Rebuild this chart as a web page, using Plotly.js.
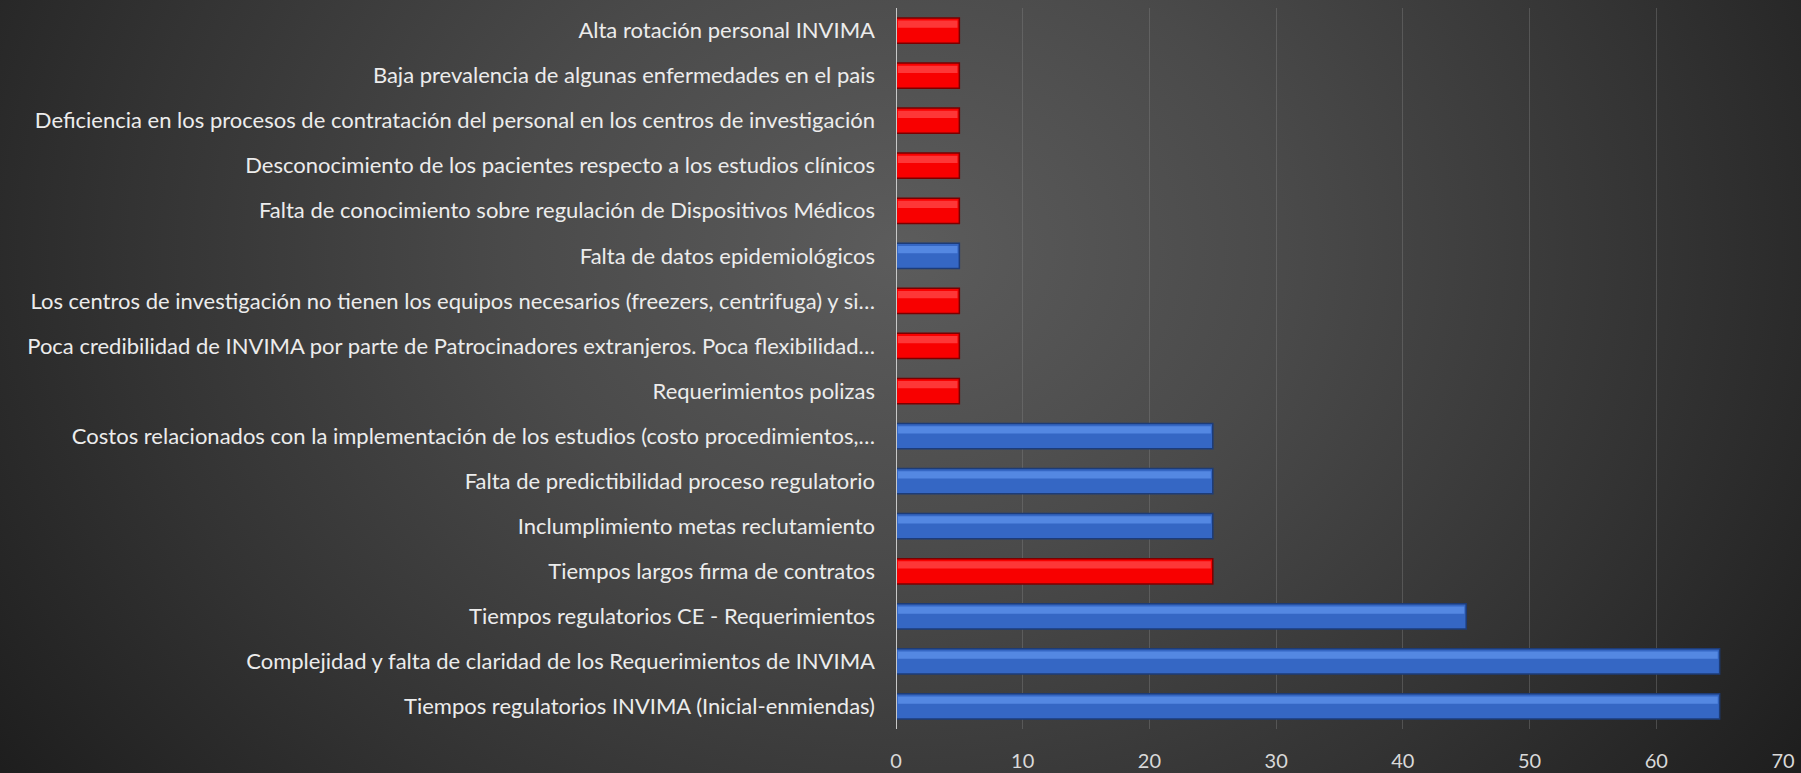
<!DOCTYPE html>
<html>
<head>
<meta charset="utf-8">
<script src="https://cdn.plot.ly/plotly-3.0.1.min.js"></script>
<style>
html,body{margin:0;padding:0;width:1801px;height:773px;overflow:hidden;}
body{background:radial-gradient(ellipse 1100px 900px at 900px 250px,#5c5c5c 0%,#4a4a4a 35%,#333 70%,#1e1e1e 100%);}
#chart{width:1801px;height:773px;}
</style>
</head>
<body>
<div id="chart"></div>
<script>
// Categories listed top to bottom as in the chart
const categories = [
  "Alta rotación personal INVIMA",
  "Baja prevalencia de algunas enfermedades en el pais",
  "Deficiencia en los procesos de contratación del personal en los centros de investigación",
  "Desconocimiento de los pacientes respecto a los estudios clínicos",
  "Falta de conocimiento sobre regulación de Dispositivos Médicos",
  "Falta de datos epidemiológicos",
  "Los centros de investigación no tienen los equipos necesarios (freezers, centrifuga) y si…",
  "Poca credibilidad de INVIMA por parte de Patrocinadores extranjeros. Poca flexibilidad…",
  "Requerimientos polizas",
  "Costos relacionados con la implementación de los estudios (costo procedimientos,…",
  "Falta de predictibilidad proceso regulatorio",
  "Inclumplimiento metas reclutamiento",
  "Tiempos largos firma de contratos",
  "Tiempos regulatorios CE - Requerimientos",
  "Complejidad y falta de claridad de los Requerimientos de INVIMA",
  "Tiempos regulatorios INVIMA (Inicial-enmiendas)"
];
const values = [5,5,5,5,5,5,5,5,5,25,25,25,25,45,65,65];
// group: "R" = red bars, "B" = blue bars
const groups = ["R","R","R","R","R","B","R","R","R","B","B","B","R","B","B","B"];
const xTicks = [0,10,20,30,40,50,60,70];

const palette = {R:{fill:"#f80000",line:"#7a0000",hi:"#ff4a4a"}, B:{fill:"#3567c4",line:"#1d3c78",hi:"#5f93ec"}};

const traces = [];
["R","B"].forEach(g=>{
  const xs = values.map((v,i)=>groups[i]===g?v:null);
  traces.push({
    type:"bar", orientation:"h", y:categories, x:xs, width:0.56,
    marker:{color:palette[g].fill, line:{color:palette[g].line, width:1.5}},
    hoverinfo:"x+y", showlegend:false
  });
  traces.push({
    type:"bar", orientation:"h", y:categories, x:xs.map(v=>v===null?null:v-0.3), width:0.16, offset:-0.22,
    base:0.15,
    marker:{color:palette[g].hi, line:{width:0}, opacity:0.75},
    hoverinfo:"skip", showlegend:false
  });
});

const layout = {
  width:1801, height:773,
  paper_bgcolor:"rgba(0,0,0,0)", plot_bgcolor:"rgba(0,0,0,0)",
  margin:{l:896, r:18, t:8, b:44},
  barmode:"overlay",
  font:{family:"Lato, 'Open Sans', sans-serif", color:"#e6e6e6"},
  xaxis:{range:[0,70], tickvals:xTicks, ticktext:xTicks.map(String), showgrid:true,
         gridcolor:"rgba(130,130,130,0.4)", gridwidth:1, zeroline:false, showline:false,
         tickfont:{size:20, color:"#d9d9d9"}, ticks:"", ticklabelstandoff:18, fixedrange:true},
  yaxis:{type:"category", autorange:"reversed", showgrid:false, zeroline:false,
         showline:false, ticks:"", tickfont:{size:22, color:"#ececec"}, ticklabelstandoff:20},
  shapes:[{type:"line", xref:"x", yref:"paper", x0:0, x1:0, y0:0, y1:1, line:{color:"#c8c8c8", width:2}}]
};

Plotly.newPlot("chart", traces, layout, {displayModeBar:false, staticPlot:true});
</script>
</body>
</html>
